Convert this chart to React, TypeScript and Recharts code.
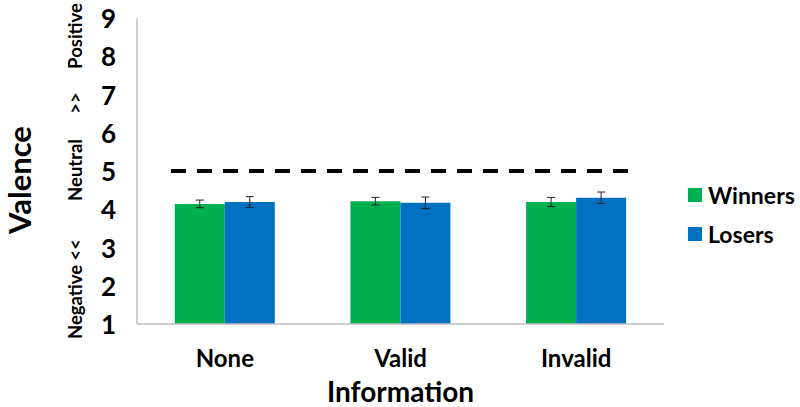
import { BarChart, Bar, XAxis, YAxis, ErrorBar, ReferenceLine, Label } from 'recharts';

const categories = ['None', 'Valid', 'Invalid'];
const winners = [4.14, 4.21, 4.19];
const losers = [4.19, 4.17, 4.3];
const winnersErr = [0.1, 0.1, 0.12];
const losersErr = [0.14, 0.15, 0.15];
const yTicks = [1, 2, 3, 4, 5, 6, 7, 8, 9];
const neutralLevel = 5;

const FONT = 'Lato, "Open Sans", sans-serif';
const GREEN = '#00b050';
const BLUE = '#0070c0';

const series = [
  { key: 'winners', label: 'Winners', color: GREEN },
  { key: 'losers', label: 'Losers', color: BLUE },
];

const data = categories.map((name, i) => ({
  name,
  winners: winners[i],
  losers: losers[i],
  winnersErr: winnersErr[i],
  losersErr: losersErr[i],
}));

// valence scale hints along the y axis
const ValenceLabel = () => {
  const cx = 75;
  const hints = [
    { text: 'Negative', y: 302 },
    { text: '<<', y: 250 },
    { text: 'Neutral', y: 170 },
    { text: '>>', y: 103 },
    { text: 'Positive', y: 36 },
  ];
  return (
    <g fontFamily={FONT} fontWeight="bold" fill="#000">
      <text x={19} y={180} transform="rotate(-90 19 180)" textAnchor="middle" dominantBaseline="central" fontSize={31}>
        Valence
      </text>
      {hints.map(h => (
        <text key={h.text} x={cx} y={h.y} transform={`rotate(-90 ${cx} ${h.y})`} textAnchor="middle" dominantBaseline="central" fontSize={18.5}>
          {h.text}
        </text>
      ))}
    </g>
  );
};

const DashedShape = (props: any) => {
  const { x1, y1, x2, y2 } = props;
  return <line x1={x1 + 34} y1={y1} x2={x2 - 36} y2={y2} stroke="#000" strokeWidth={4} strokeDasharray="15 11" />;
};

export default function App() {
  return (
    <div style={{ position: 'absolute', left: 0, top: 0, width: 800, height: 407, background: '#fff' }}>
      <BarChart
        width={800}
        height={407}
        data={data}
        margin={{ top: 18, right: 136, bottom: 0, left: 0 }}
        barCategoryGap="21.5%"
        barGap={0}
      >
        <XAxis
          dataKey="name"
          height={83}
          axisLine={{ stroke: '#bfbfbf', strokeWidth: 1.5 }}
          tickLine={false}
          tick={({ x, payload }: any) => (
            <text x={x} y={357} textAnchor="middle" dominantBaseline="central" fontFamily={FONT} fontWeight="bold" fontSize={24} fill="#000">
              {payload.value}
            </text>
          )}
        >
          <Label content={({ viewBox }: any) => (
            <text x={viewBox.x + viewBox.width / 2} y={391} textAnchor="middle" dominantBaseline="central" fontFamily={FONT} fontWeight="bold" fontSize={28} fill="#000">
              Information
            </text>
          )} />
        </XAxis>
        <YAxis
          width={137}
          domain={[1, 9]}
          ticks={yTicks}
          interval={0}
          axisLine={{ stroke: '#bfbfbf', strokeWidth: 1.5 }}
          tickLine={false}
          tick={({ y, payload }: any) => (
            <text x={116} y={y} textAnchor="end" dominantBaseline="central" fontFamily={FONT} fontWeight="bold" fontSize={26} fill="#000">
              {payload.value}
            </text>
          )}
        >
          <Label content={ValenceLabel} />
        </YAxis>
        <ReferenceLine y={neutralLevel} shape={DashedShape} />
        <Bar dataKey="winners" name="Winners" fill={GREEN} isAnimationActive={false}>
          <ErrorBar dataKey="winnersErr" width={4} stroke="#222" strokeWidth={1} />
        </Bar>
        <Bar dataKey="losers" name="Losers" fill={BLUE} isAnimationActive={false}>
          <ErrorBar dataKey="losersErr" width={4} stroke="#222" strokeWidth={1} />
        </Bar>
      </BarChart>
      <div style={{ position: 'absolute', left: 688, top: 175, fontFamily: FONT, fontWeight: 'bold', fontSize: 23, color: '#000' }}>
        {series.map(item => (
          <div key={item.key} style={{ display: 'flex', alignItems: 'center', height: 39 }}>
            <span style={{ width: 14, height: 14, background: item.color, marginRight: 6, display: 'inline-block' }} />
            {item.label}
          </div>
        ))}
      </div>
    </div>
  );
}
